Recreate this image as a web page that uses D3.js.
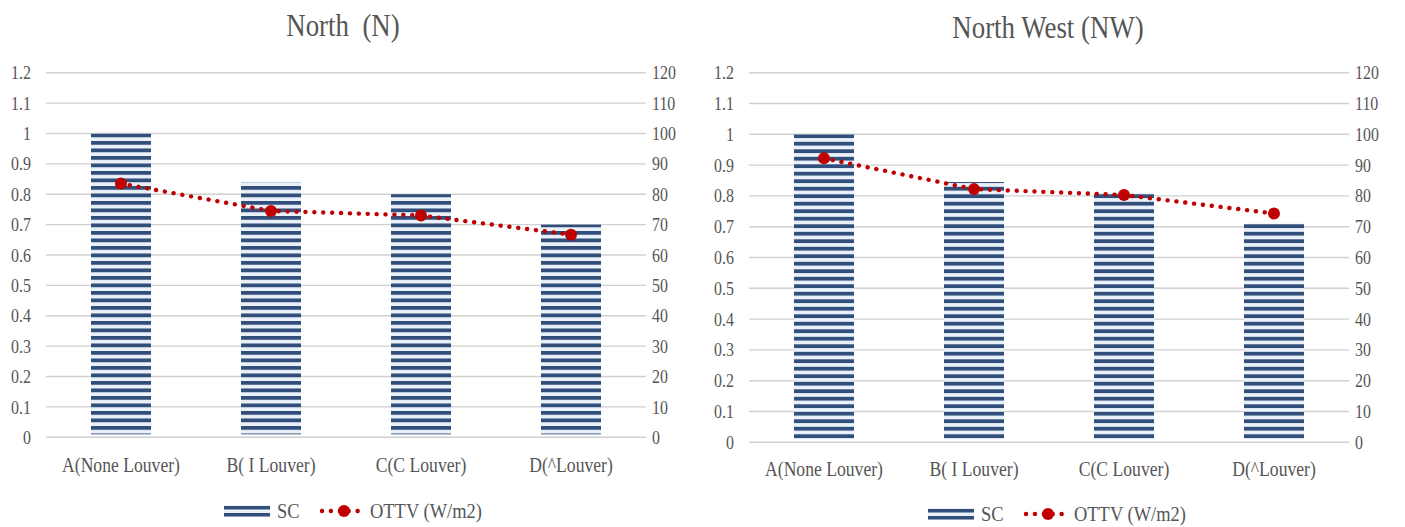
<!DOCTYPE html>
<html>
<head>
<meta charset="utf-8">
<script src="https://cdn.jsdelivr.net/npm/d3@7/dist/d3.min.js"></script>
<style>
  html, body { margin: 0; padding: 0; background: #ffffff; }
  svg { display: block; }
</style>
</head>
<body>
<svg id="chart" width="1405" height="527"></svg>
<script>
// Louver types shared by both orientations
const categories = ["A(None Louver)", "B( I Louver)", "C(C Louver)", "D(^Louver)"];

// Shading coefficient (left axis) and OTTV in W/m2 (right axis)
const scNorth = [1.0, 0.84, 0.80, 0.70];
const ottvNorth = [83.5, 74.5, 73.0, 66.7];
const scNorthWest = [1.0, 0.845, 0.81, 0.71];
const ottvNorthWest = [92.2, 82.2, 80.3, 74.3];

// Axis ticks
const scTicks = [0, 0.1, 0.2, 0.3, 0.4, 0.5, 0.6, 0.7, 0.8, 0.9, 1.0, 1.1, 1.2];
const ottvTicks = [0, 10, 20, 30, 40, 50, 60, 70, 80, 90, 100, 110, 120];

const titles = ["North  (N)", "North West (NW)"];
const legendLabels = ["SC", "OTTV (W/m2)"];

const FONT = '"Liberation Serif", "DejaVu Serif", "Times New Roman", serif';
const TEXT = "#555555";
const BAR_DARK = "#324e7b";
const BAR_LIGHT = "#eaf1f9";
const RED = "#c00000";
const GRID = "#d0d0d0";
const NARROW = 0.84;   // condensed text width

const svg = d3.select("#chart");
const defs = svg.append("defs");

function styleText(sel, size) {
  sel.attr("font-family", FONT).style("font-family", FONT)
    .style("font-size", size + "px").attr("fill", TEXT).style("fill", TEXT)
    .style("white-space", "pre");
}

// Text placed at (x, y) and squeezed horizontally around its anchor
function label(parent, x, y, str, size, anchor) {
  return parent.append("text")
    .attr("transform", `translate(${x},${y}) scale(${NARROW},1)`)
    .attr("text-anchor", anchor || "start")
    .text(str)
    .call(styleText, size);
}

const panels = [
  { id: "n",  title: titles[0], sc: scNorth, ottv: ottvNorth,
    x0: 46, x1: 646, yTop: 72.7, yBottom: 437.3, titleX: 343, titleY: 36,
    xLabelY: 473, legendY: 511, legendX: 224 },
  { id: "nw", title: titles[1], sc: scNorthWest, ottv: ottvNorthWest,
    x0: 749, x1: 1349, yTop: 72.7, yBottom: 442.3, titleX: 1048, titleY: 38,
    xLabelY: 477, legendY: 514, legendX: 928 }
];

panels.forEach(p => {
  const x = d3.scaleBand().domain(categories).range([p.x0, p.x1])
    .paddingInner(0.6).paddingOuter(0.3);
  const ySC = d3.scaleLinear().domain([0, 1.2]).range([p.yBottom, p.yTop]);
  const yOT = d3.scaleLinear().domain([0, 120]).range([p.yBottom, p.yTop]);

  // Narrow horizontal stripe fill for the SC bars
  const period = 7.5;
  const pat = defs.append("pattern")
    .attr("id", "stripe-" + p.id)
    .attr("patternUnits", "userSpaceOnUse")
    .attr("x", 0).attr("y", ySC(1.0))
    .attr("width", 20).attr("height", period);
  pat.append("rect").attr("width", 20).attr("height", period).attr("fill", BAR_LIGHT);
  pat.append("rect").attr("width", 20).attr("height", 3.8).attr("fill", BAR_DARK);

  const g = svg.append("g");

  // Title
  label(g, p.titleX, p.titleY, p.title, 32, "middle");

  // Gridlines
  g.append("g")
    .selectAll("line").data(scTicks).join("line")
    .attr("x1", p.x0).attr("x2", p.x1)
    .attr("y1", d => ySC(d)).attr("y2", d => ySC(d))
    .attr("stroke", GRID).attr("stroke-width", 1.4);

  // Left axis (SC)
  const leftAxis = d3.axisLeft(ySC).tickValues(scTicks).tickSize(0).tickPadding(0)
    .tickFormat(d => String(+d.toFixed(1)));
  g.append("g").attr("transform", `translate(${p.x0 - 15},0)`)
    .call(leftAxis)
    .call(s => s.attr("font-family", FONT))
    .call(s => s.select(".domain").remove())
    .call(s => s.selectAll("text").call(styleText, 19)
      .attr("transform", `scale(${NARROW},1)`));

  // Right axis (OTTV)
  const rightAxis = d3.axisRight(yOT).tickValues(ottvTicks).tickSize(0).tickPadding(0)
    .tickFormat(d3.format("d"));
  g.append("g").attr("transform", `translate(${p.x1 + 6},0)`)
    .call(rightAxis)
    .call(s => s.attr("font-family", FONT))
    .call(s => s.select(".domain").remove())
    .call(s => s.selectAll("text").call(styleText, 19)
      .attr("transform", `scale(${NARROW},1)`));

  // Category axis labels
  const bottomAxis = d3.axisBottom(x).tickSize(0).tickPadding(0);
  g.append("g").attr("transform", `translate(0,${p.xLabelY - 16})`)
    .call(bottomAxis)
    .call(s => s.attr("font-family", FONT))
    .call(s => s.select(".domain").remove())
    .call(s => s.selectAll("text").call(styleText, 21)
      .attr("transform", `scale(${NARROW},1)`));

  // SC bars
  g.append("g")
    .selectAll("rect").data(categories).join("rect")
    .attr("x", d => x(d)).attr("width", x.bandwidth())
    .attr("y", (d, i) => ySC(p.sc[i]))
    .attr("height", (d, i) => ySC(0) - ySC(p.sc[i]) - 3)
    .attr("fill", `url(#stripe-${p.id})`);

  // OTTV dotted line with markers
  const cx = (d, i) => x(categories[i]) + x.bandwidth() / 2;
  const line = d3.line().x((d, i) => cx(d, i)).y(d => yOT(d));
  g.append("path").datum(p.ottv)
    .attr("d", line)
    .attr("fill", "none").attr("stroke", RED)
    .attr("stroke-width", 4.4).attr("stroke-linecap", "round")
    .attr("stroke-dasharray", "0.1 8.8");
  g.append("g")
    .selectAll("circle").data(p.ottv).join("circle")
    .attr("cx", cx).attr("cy", d => yOT(d))
    .attr("r", 6).attr("fill", RED);

  // Legend
  const lg = g.append("g").attr("transform", `translate(${p.legendX},${p.legendY})`);
  lg.append("rect").attr("x", 0).attr("y", -6).attr("width", 46).attr("height", 12).attr("fill", BAR_LIGHT);
  lg.append("rect").attr("x", 0).attr("y", -5).attr("width", 46).attr("height", 3.5).attr("fill", BAR_DARK);
  lg.append("rect").attr("x", 0).attr("y", 2).attr("width", 46).attr("height", 3.5).attr("fill", BAR_DARK);
  label(lg, 53, 7, legendLabels[0], 22);
  lg.append("line").attr("x1", 98).attr("x2", 142).attr("y1", 0).attr("y2", 0)
    .attr("stroke", RED).attr("stroke-width", 4.4).attr("stroke-linecap", "round")
    .attr("stroke-dasharray", "0.1 8.8");
  lg.append("circle").attr("cx", 120).attr("cy", 0).attr("r", 6).attr("fill", RED);
  label(lg, 146, 7, legendLabels[1], 22);
});
</script>
</body>
</html>
